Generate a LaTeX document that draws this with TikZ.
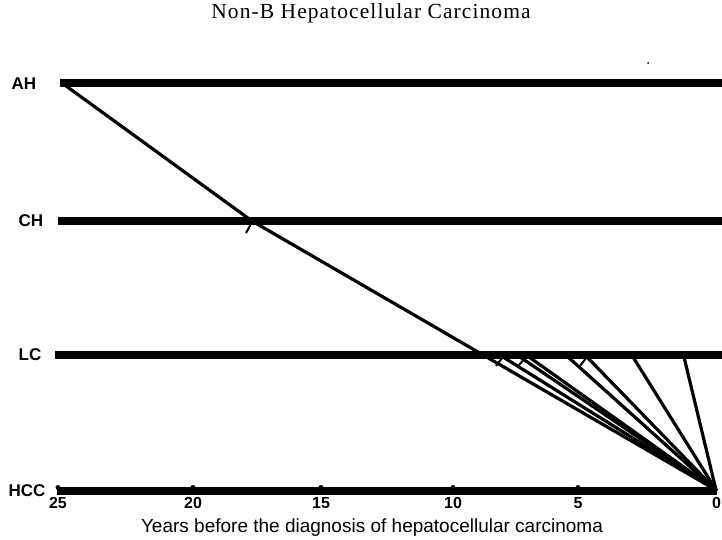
\documentclass[tikz,border=0pt]{standalone}
\usepackage{fontspec}
\setmainfont{Liberation Serif}
\setsansfont{Liberation Sans}
\newfontfamily\titlefont[LetterSpace=5]{Liberation Serif}
\begin{document}
\begin{tikzpicture}[x=1pt,y=-1pt,
  stage/.style={line width=7.5pt},
  course/.style={line width=3.2pt, line cap=round, line join=round},
  lab/.style={font=\sffamily\bfseries\fontsize{17}{19}\selectfont, inner sep=0pt},
  ticklab/.style={font=\sffamily\bfseries\fontsize{16}{18}\selectfont, inner sep=0pt, anchor=base},
  axlab/.style={font=\sffamily\fontsize{19}{21}\selectfont, inner sep=0pt, anchor=base},
  ttl/.style={font=\titlefont\fontsize{21.5}{24}\selectfont, inner sep=0pt, anchor=base},
  marker/.style={line width=2pt},
  tickdot/.style={fill=black, draw=none}
]
\useasboundingbox (0,0) rectangle (722,540);

% title
\node[ttl] (title) at (371,19) {Non-B Hepatocellular Carcinoma};
\fill (648,63) circle (1pt);

% stage labels
\node[lab] (ah) at (24,84) {AH};
\node[lab] (ch) at (31,221) {CH};
\node[lab] (lc) at (30,355) {LC};
\node[lab] (hcc) at (27,491) {HCC};

% stage lines
\coordinate (ahS) at (60,83);  \coordinate (ahE) at (722,83);
\coordinate (chS) at (58,221); \coordinate (chE) at (722,221);
\coordinate (lcS) at (55,355); \coordinate (lcE) at (722,355);
\coordinate (hccS) at (57,491); \coordinate (hccE) at (717,491);
\draw[stage] (ahS) -- (ahE);
\draw[stage] (chS) -- (chE);
\draw[stage] (lcS) -- (lcE);
\draw[stage] (hccS) -- (hccE);

% tick dots on HCC axis
\foreach \x in {58,193,321,453,578} { \fill[tickdot] (\x,487.5) circle (2.5pt); }

% tick labels
\node[ticklab] (t25) at (58,508) {25};
\node[ticklab] (t20) at (193,508) {20};
\node[ticklab] (t15) at (321,508) {15};
\node[ticklab] (t10) at (453,508) {10};
\node[ticklab] (t5) at (578,508) {5};
\node[ticklab] (t0) at (716.5,508) {0};

\node[axlab] (xlab) at (372,532) {Years before the diagnosis of hepatocellular carcinoma};

% courses
\coordinate (p0) at (62,83);
\coordinate (p1) at (252,221);
\coordinate (v) at (716,490);
\draw[course] (p0) -- (p1) -- (v);

\coordinate (l1) at (503,357);
\coordinate (l2) at (520,357);
\coordinate (l3) at (529,357);
\coordinate (l4) at (568,357);
\coordinate (l5) at (587,357);
\coordinate (l6) at (633,357);
\coordinate (l7) at (684,357);
\foreach \c in {l1,l2,l3,l4,l5,l6,l7} { \draw[course] (\c) -- (v); }

% small markers
\coordinate (m0a) at (251,224); \coordinate (m0b) at (246,233);
\coordinate (m1a) at (502,358); \coordinate (m1b) at (496,366);
\coordinate (m2a) at (525,358); \coordinate (m2b) at (519,365);
\coordinate (m3a) at (586,358); \coordinate (m3b) at (580,366);
\draw[marker] (m0a) -- (m0b);
\draw[marker] (m1a) -- (m1b);
\draw[marker] (m2a) -- (m2b);
\draw[marker] (m3a) -- (m3b);
\end{tikzpicture}
\end{document}
